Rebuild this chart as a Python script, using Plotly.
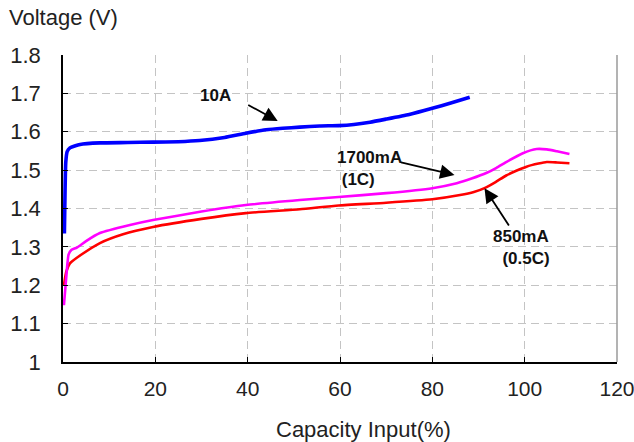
import plotly.graph_objects as go

# ---- data ----
x_10a = [0.3, 0.45, 0.6, 0.9, 1.5, 3.7, 8, 14, 19.5, 25, 29.6, 35, 39.6, 44, 47.6, 51.3, 55.6, 59.7, 63, 66.5, 70, 75, 80, 84, 88.1]
y_10a = [1.335, 1.45, 1.52, 1.548, 1.558, 1.567, 1.571, 1.572, 1.573, 1.574, 1.577, 1.585, 1.596, 1.605, 1.609, 1.612, 1.615, 1.616, 1.619, 1.625, 1.633, 1.645, 1.661, 1.675, 1.69]

x_1700 = [0.2, 0.7, 1.2, 1.8, 3, 5, 8, 14.5, 19.5, 30, 39.6, 51.3, 59.7, 70, 80, 85.3, 88.5, 91.8, 93.9, 96, 99.6, 102.6, 104.8, 107, 109.7]
y_1700 = [1.148, 1.22, 1.28, 1.292, 1.298, 1.315, 1.336, 1.357, 1.37, 1.392, 1.409, 1.422, 1.43, 1.44, 1.453, 1.466, 1.478, 1.493, 1.506, 1.521, 1.544, 1.555, 1.554, 1.549, 1.542]

x_850 = [0.2, 0.7, 1.5, 4, 8, 13, 19.5, 30, 39.6, 51.3, 59.7, 70, 80, 86, 89, 91.3, 93.7, 96, 98.3, 100.4, 103, 104.8, 107, 109.7]
y_850 = [1.2, 1.235, 1.257, 1.28, 1.31, 1.333, 1.352, 1.373, 1.388, 1.398, 1.408, 1.415, 1.424, 1.435, 1.443, 1.453, 1.469, 1.486, 1.499, 1.509, 1.517, 1.521, 1.52, 1.518]

x_ticks = [0, 20, 40, 60, 80, 100, 120]
y_ticks = [1.0, 1.1, 1.2, 1.3, 1.4, 1.5, 1.6, 1.7, 1.8]
y_tick_text = ["1", "1.1", "1.2", "1.3", "1.4", "1.5", "1.6", "1.7", "1.8"]

# annotation labels: (text, x, y) and arrows: (head_x, head_y, tail_x, tail_y)
labels = [("<b>10A</b>", 33.1, 1.695), ("<b>1700mA<br> (1C)</b>", 66.3, 1.503), ("<b>850mA<br>  (0.5C)</b>", 99.3, 1.298)]
arrows = [(46.5, 1.628, 39.8, 1.672), (84.8, 1.487, 72.9, 1.521), (91.3, 1.453, 96.8, 1.352)]

FONT = "Liberation Sans, Arial, sans-serif"
L, R, T, B = 63, 17, 55, 80
PW, PH = 634 - L - R, 442 - T - B

fig = go.Figure()
fig.add_trace(go.Scatter(x=x_850, y=y_850, mode="lines", line=dict(color="#ff0000", width=2.6, shape="spline", smoothing=0.5), name="850mA"))
fig.add_trace(go.Scatter(x=x_1700, y=y_1700, mode="lines", line=dict(color="#ff00ff", width=2.6, shape="spline", smoothing=0.5), name="1700mA"))
fig.add_trace(go.Scatter(x=x_10a, y=y_10a, mode="lines", line=dict(color="#0000ff", width=3.6, shape="spline", smoothing=0.5), name="10A"))

for text, lx, ly in labels:
    fig.add_annotation(x=lx, y=ly, xref="x", yref="y", text=text, showarrow=False,
                       font=dict(family=FONT, size=17, color="#111"), align="left")
for hx, hy, tx, ty in arrows:
    fig.add_annotation(x=hx, y=hy, ax=tx, ay=ty, xref="x", yref="y", axref="x", ayref="y",
                       text="", showarrow=True, arrowhead=2, arrowsize=1.6, arrowwidth=1.8,
                       arrowcolor="#000", standoff=0, startstandoff=0)

# axis titles
fig.add_annotation(text="Voltage (V)", x=-(L - 7) / PW, y=1 + (T - 18) / PH, xref="paper", yref="paper",
                   xanchor="left", yanchor="middle", showarrow=False,
                   font=dict(family=FONT, size=22, color="#222"))
fig.add_annotation(text="Capacity Input(%)", x=(363 - L) / PW, y=-(429 - (T + PH)) / PH, xref="paper", yref="paper",
                   xanchor="center", yanchor="middle", showarrow=False,
                   font=dict(family=FONT, size=22, color="#222"))

# right border (solid gray)
fig.add_shape(type="line", xref="x domain", yref="y domain", x0=1, x1=1, y0=0, y1=1,
              line=dict(color="#9a9a9a", width=1.5))

fig.update_layout(
    width=634, height=442,
    margin=dict(l=L, r=R, t=T, b=B, autoexpand=False),
    paper_bgcolor="white", plot_bgcolor="white",
    showlegend=False,
    font=dict(family=FONT, size=22, color="#222"),
)

fig.update_xaxes(range=[0, 120], tickvals=x_ticks, ticks="inside", ticklen=5, tickcolor="#000",
                 showline=True, linecolor="#000", linewidth=1.5, automargin=False,
                 showgrid=True, gridcolor="#c4c4c4", griddash="8px,5px", gridwidth=1.2,
                 zeroline=False, ticklabelstandoff=7, ticklabeloverflow="allow",
                 tickfont=dict(size=21, color="#222"))
fig.update_yaxes(range=[1.0, 1.8], tickvals=y_ticks, ticktext=y_tick_text, ticks="inside", ticklen=5, tickcolor="#000",
                 showline=True, linecolor="#000", linewidth=1.5, automargin=False,
                 showgrid=True, gridcolor="#c4c4c4", griddash="8px,5px", gridwidth=1.2,
                 zeroline=False, ticklabelstandoff=16, tickfont=dict(size=22, color="#222"))

fig.write_html("out.html", config={"displayModeBar": False},
               post_script="document.body.style.margin='0';document.body.style.overflow='hidden';")
